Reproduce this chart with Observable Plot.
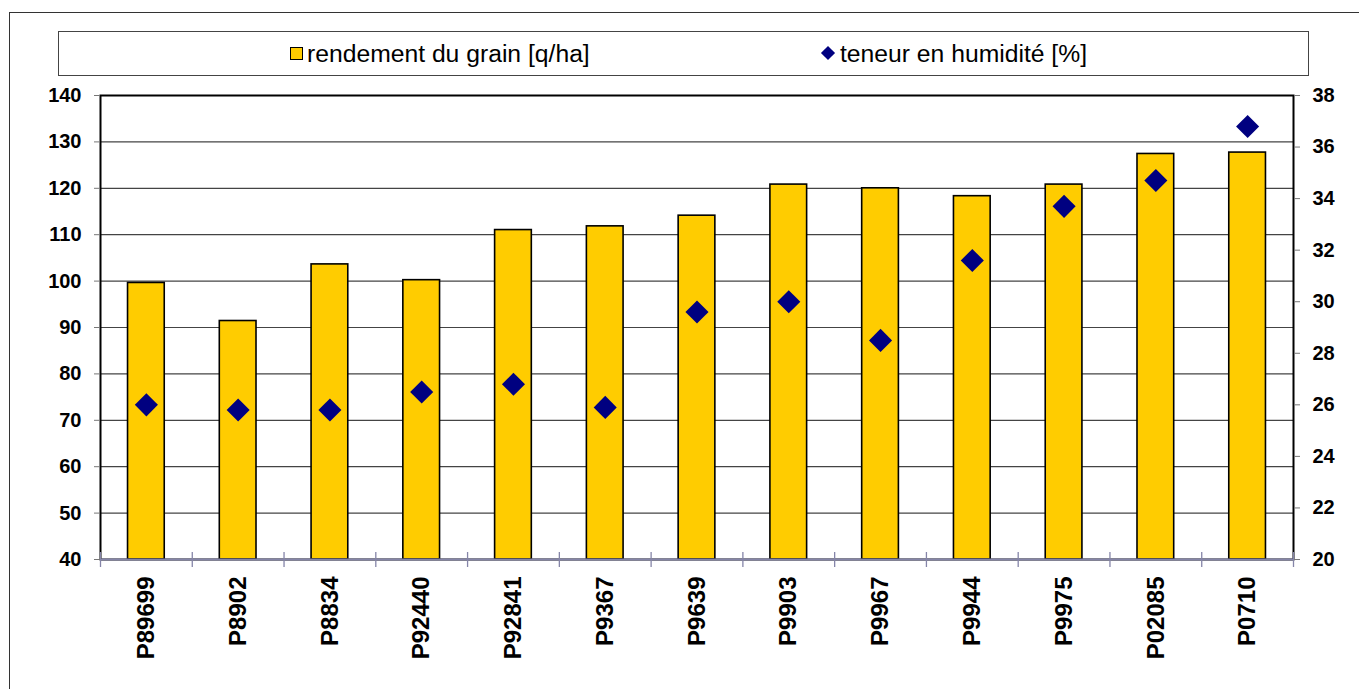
<!DOCTYPE html>
<html>
<head>
<meta charset="utf-8">
<script src="https://cdn.jsdelivr.net/npm/d3@7"></script>
<script src="https://cdn.jsdelivr.net/npm/@observablehq/plot@0.6"></script>
<style>
  html, body { margin: 0; padding: 0; background: #fff; }
  body { width: 1359px; height: 689px; position: relative; overflow: hidden; font-family: "Liberation Sans", Arial, sans-serif; }
  #outer { position: absolute; left: 9px; top: 12px; width: 1500px; height: 900px; border-top: 1.5px solid #333; border-left: 1.5px solid #333; }
  #legend { position: absolute; left: 58px; top: 31px; width: 1249px; height: 43px; border: 1.5px solid #444; background: #fff; }
  .item { position: absolute; top: 0; height: 43px; line-height: 43px; font-size: 24.7px; color: #000; white-space: nowrap; }
  .sq { position: absolute; left: 231px; top: 15px; width: 11px; height: 11px; background: #FFCC00; border: 1.3px solid #000; }
  .dm { position: absolute; left: 764px; top: 16px; width: 10px; height: 10px; background: #000080; transform: rotate(45deg); }
  #chart { position: absolute; left: 0; top: 0; }
</style>
</head>
<body>
<div id="outer"></div>
<div id="legend">
  <div class="sq"></div>
  <div class="item" style="left:248px">rendement du grain [q/ha]</div>
  <div class="dm"></div>
  <div class="item" style="left:781px">teneur en humidité [%]</div>
</div>
<div id="chart"></div>
<script>
const categories = ["P89699","P8902","P8834","P92440","P92841","P9367","P9639","P9903","P9967","P9944","P9975","P02085","P0710"];
const rendement = [99.6, 91.4, 103.6, 100.2, 111.0, 111.8, 114.1, 120.8, 120.0, 118.3, 120.8, 127.4, 127.7];
const humidite = [26.0, 25.8, 25.8, 26.5, 26.8, 25.9, 29.6, 30.0, 28.5, 31.6, 33.7, 34.7, 36.8];
const leftTicks = [40, 50, 60, 70, 80, 90, 100, 110, 120, 130, 140];
const rightTicks = [20, 22, 24, 26, 28, 30, 32, 34, 36, 38];

const leftDomain = [40, 140];
const rightDomain = [20, 38];
const toLeft = v => leftDomain[0] + (v - rightDomain[0]) * (leftDomain[1] - leftDomain[0]) / (rightDomain[1] - rightDomain[0]);
const fromLeft = v => rightDomain[0] + (v - leftDomain[0]) * (rightDomain[1] - rightDomain[0]) / (leftDomain[1] - leftDomain[0]);

const data = categories.map((c, i) => ({cat: c, r: rendement[i], h: humidite[i]}));

const W = 1359, H = 689, ML = 100, MR = 66, MT = 95, MB = 130;
const step = (W - ML - MR) / categories.length;

const chart = Plot.plot({
  width: W,
  height: H,
  marginTop: MT,
  marginBottom: MB,
  marginLeft: ML,
  marginRight: MR,
  style: {fontFamily: "'Liberation Sans', Arial, sans-serif", background: "transparent", overflow: "visible"},
  x: {domain: categories, paddingInner: 0.6, paddingOuter: 0.3, round: false},
  y: {domain: leftDomain},
  marks: [
    Plot.ruleY(leftTicks.slice(1, -1), {stroke: "#444", strokeWidth: 1.2}),
    Plot.barY(data, {x: "cat", y1: leftDomain[0], y2: "r", fill: "#FFCC00", stroke: "#000", strokeWidth: 1.6}),
    Plot.frame({stroke: "#000", strokeWidth: 2}),
    Plot.ruleY([leftDomain[0]], {stroke: "#8585a8", strokeWidth: 2}),
    Plot.ruleX(categories, {x: d => d, y1: leftDomain[0], y2: leftDomain[0], insetTop: -7, insetBottom: -8, dx: -step / 2, stroke: "#8585a8", strokeWidth: 1.3}),
    Plot.ruleX(categories.slice(-1), {x: d => d, y1: leftDomain[0], y2: leftDomain[0], insetTop: -7, insetBottom: -8, dx: step / 2, stroke: "#8585a8", strokeWidth: 1.3}),
    Plot.dot(data, {x: "cat", y: d => toLeft(d.h), symbol: "diamond2", r: 10.4, fill: "#000080", stroke: "none"}),
    Plot.axisY(leftTicks, {anchor: "left", label: null, tickSize: 6, tickPadding: 13, fontSize: 20, fontWeight: "bold", stroke: "#777", fill: "#000"}),
    Plot.axisY(rightTicks.map(toLeft), {anchor: "right", label: null, tickSize: 6, tickPadding: 13, fontSize: 20, fontWeight: "bold", stroke: "#777", fill: "#000", tickFormat: d => String(Math.round(fromLeft(d)))}),
    Plot.axisX({anchor: "bottom", label: null, tickSize: 0, tickPadding: 17, tickRotate: -90, fontSize: 24, fontWeight: "bold", fill: "#000"})
  ]
});
document.getElementById("chart").appendChild(chart);
</script>
</body>
</html>
